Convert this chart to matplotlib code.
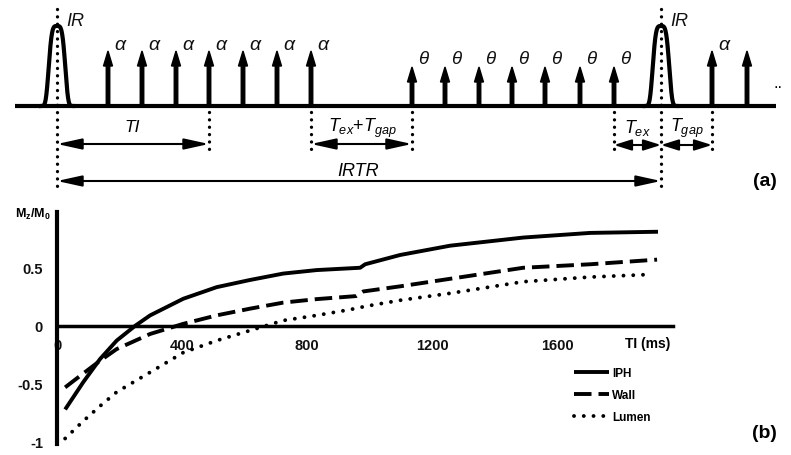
import numpy as np
import matplotlib
matplotlib.use("Agg")
import matplotlib.pyplot as plt
from matplotlib.patches import FancyArrow

plt.rcParams['font.family'] = ['Liberation Sans', 'DejaVu Sans']
plt.rcParams['mathtext.fontset'] = 'custom'
plt.rcParams['mathtext.rm'] = 'Liberation Sans'
plt.rcParams['mathtext.it'] = 'Liberation Sans:italic'
plt.rcParams['mathtext.bf'] = 'Liberation Sans:bold'

# ---------------- data: sequence diagram (a) ----------------
ir_x = [57, 661]
alpha_x = [108, 142, 176, 209, 243, 277, 311, 712, 747]
alpha_labeled = [108, 142, 176, 209, 243, 277, 311, 712]
theta_x = [412, 445, 479, 512, 545, 580, 614]

# ---------------- data: magnetization curves (b) ----------------
ti_iph = [26, 84, 138, 191, 250, 298, 404, 511, 618, 724, 831, 970, 986, 1098, 1258, 1492, 1706, 1923]
iph = [-0.72, -0.485, -0.285, -0.127, 0.0, 0.09, 0.233, 0.333, 0.395, 0.45, 0.48, 0.50, 0.53,
       0.61, 0.69, 0.76, 0.80, 0.81]
ti_wall = [26, 84, 138, 191, 298, 404, 511, 618, 724, 831, 957, 980, 1098, 1258, 1492, 1706, 1920]
wall = [-0.53, -0.41, -0.30, -0.20, -0.07, 0.017, 0.09, 0.148, 0.20, 0.23, 0.256, 0.296, 0.34,
        0.405, 0.50, 0.53, 0.57]
ti_lumen = [26, 84, 138, 191, 298, 404, 511, 618, 724, 831, 938, 991, 1098, 1258, 1492, 1706, 1880]
lumen = [-0.97, -0.82, -0.69, -0.57, -0.40, -0.23, -0.127, -0.04, 0.046, 0.09, 0.14, 0.17, 0.22,
         0.28, 0.38, 0.42, 0.44]
xticks = [0, 400, 800, 1200, 1600]
xticklabels = ['0', '400', '800', '1200', '1600']
yticks = [0.5, 0, -0.5, -1]
yticklabels = ['0.5', '0', '-0.5', '-1']

W, H = 791, 456
fig = plt.figure(figsize=(W / 100, H / 100), dpi=100)

# ---------------- panel (a) ----------------
ax0 = fig.add_axes([0, 0, 1, 1])
ax0.set_xlim(0, W)
ax0.set_ylim(H, 0)
ax0.axis('off')

base = 107
ax0.plot([15, 776], [base, base], color='k', lw=3, solid_capstyle='butt', zorder=3)

for c in ir_x:
    xs = np.linspace(c - 16, c + 16, 300)
    ys = base - 80 * np.exp(-(np.abs(xs - c) / 9.0) ** 4)
    ax0.plot(xs, ys, color='k', lw=3, zorder=3)

for x in alpha_x:
    ax0.add_patch(FancyArrow(x, base, 0, -(base - 52), width=3.5, head_width=9,
                             head_length=15, length_includes_head=True, color='k', zorder=3))
for x in theta_x:
    ax0.add_patch(FancyArrow(x, base, 0, -(base - 68), width=3.5, head_width=9,
                             head_length=15, length_includes_head=True, color='k', zorder=3))

lab_kw = dict(style='italic', color='#111111', ha='center', va='center')
for x in alpha_labeled:
    ax0.text(x + 12, 46, 'α', fontsize=14, **lab_kw)
for x in theta_x:
    ax0.text(x + 11, 59, 'θ', fontsize=13.5, **lab_kw)
for c in ir_x:
    ax0.text(c + 9, 21, 'IR', fontsize=13, style='italic', ha='left', va='center', color='#111111')
ax0.text(778, 84, '..', fontsize=12, ha='center', va='center')

dot_kw = dict(color='k', lw=2.4, linestyle=(0, (0.01, 2.2)), dash_capstyle='round', zorder=4)
for c in ir_x:
    ax0.plot([c, c], [10, 190], **dot_kw)
for x in [209, 311, 412, 614, 712]:
    ax0.plot([x, x], [113, 151], **dot_kw)

def darrow(x0, x1, y, hl=1.0):
    ax0.annotate('', xy=(x1, y), xytext=(x0, y),
                 arrowprops=dict(arrowstyle='<|-|>,head_length=%g,head_width=0.22' % hl,
                                 lw=1.5, color='k', shrinkA=0, shrinkB=0,
                                 mutation_scale=15))

darrow(57, 209, 145)
darrow(311, 412, 145)
darrow(614, 661, 146, hl=0.7)
darrow(661, 712, 146, hl=0.7)
darrow(57, 661, 182)

ax0.text(132, 128, 'TI', fontsize=12.5, style='italic', ha='center', va='center')
ax0.text(362, 128, r'$T_{ex}$+$T_{gap}$', fontsize=13, ha='center', va='center')
ax0.text(637, 128, r'$T_{ex}$', fontsize=13, ha='center', va='center')
ax0.text(687, 128, r'$T_{gap}$', fontsize=13, ha='center', va='center')
ax0.text(358, 172, 'IRTR', fontsize=13, style='italic', ha='center', va='center')
ax0.text(765, 182, '(a)', fontsize=14, weight='bold', ha='center', va='center')
ax0.text(764, 434, '(b)', fontsize=14, weight='bold', ha='center', va='center')

# ---------------- panel (b) ----------------
ax1 = fig.add_axes([57 / W, 1 - 445.3 / H, 616 / W, 232.3 / H])
ax1.patch.set_visible(False)
ax1.set_xlim(0, 1971)
ax1.set_ylim(-1.02, 0.98)

l1, = ax1.plot(ti_iph, iph, color='k', lw=2.8, solid_capstyle='butt', solid_joinstyle='round',
               label='IPH')
l2, = ax1.plot(ti_wall, wall, color='k', lw=2.8, linestyle=(0, (4.5, 1.8)), label='Wall')
l3, = ax1.plot(ti_lumen, lumen, color='k', lw=2.8, linestyle=(0, (0.01, 2.5)),
               dash_capstyle='round', label='Lumen')

for s in ['top', 'right']:
    ax1.spines[s].set_visible(False)
ax1.spines['left'].set_linewidth(3)
ax1.spines['bottom'].set_position(('data', 0))
ax1.spines['bottom'].set_linewidth(2.5)

ax1.set_xticks(xticks)
ax1.set_xticklabels(xticklabels)
ax1.set_yticks(yticks)
ax1.set_yticklabels(yticklabels)
ax1.tick_params(axis='both', length=0, labelsize=10.5, colors='#111111')
ax1.tick_params(axis='x', pad=9)
ax1.tick_params(axis='y', pad=10)
for lab in ax1.get_xticklabels() + ax1.get_yticklabels():
    lab.set_fontweight('bold')

fig.text(33 / W, 1 - 214 / H, r'$\mathbf{M_{z}/M_{0}}$', fontsize=9, ha='center', va='center')
fig.text(648 / W, 1 - 344 / H, 'TI (ms)', fontsize=10, weight='bold', ha='center', va='center')

ax1.legend(handles=[l1, l2, l3], loc='upper left',
           bbox_to_anchor=(574 / W, 1 - 368 / H), bbox_transform=fig.transFigure,
           frameon=False, prop=dict(weight='bold', size=8.5), handlelength=3.0,
           handletextpad=0.25, labelspacing=0.85, borderpad=0, borderaxespad=0)

fig.savefig('out.png', dpi=100)
